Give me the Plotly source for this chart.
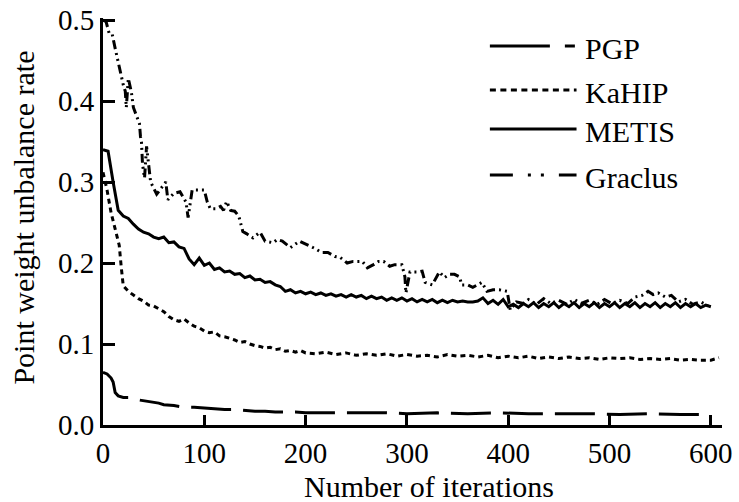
import plotly.graph_objects as go

# ---------------- data ----------------
x_ticks = [0, 100, 200, 300, 400, 500, 600]
y_ticks = [0.0, 0.1, 0.2, 0.3, 0.4, 0.5]
y_tick_text = ["0.0", "0.1", "0.2", "0.3", "0.4", "0.5"]

series_names = ["PGP", "KaHIP", "METIS", "Graclus"]

pgp_x = [0, 4, 8, 10, 12, 15, 20, 25, 30, 35, 40, 50, 55, 60, 70, 80, 90, 100, 110, 120,
         130, 140, 150, 160, 170, 180, 190, 200, 220, 240, 260, 280, 300, 330, 360, 390,
         420, 450, 480, 510, 540, 570, 600]
pgp_y = [0.065, 0.063, 0.058, 0.053, 0.040, 0.036, 0.034, 0.034, 0.032, 0.031, 0.030, 0.028,
         0.027, 0.025, 0.024, 0.022, 0.022, 0.021, 0.020, 0.019, 0.019, 0.018, 0.017, 0.017,
         0.016, 0.016, 0.016, 0.015, 0.015, 0.015, 0.015, 0.015, 0.014, 0.015, 0.014, 0.015,
         0.014, 0.014, 0.014, 0.013, 0.014, 0.013, 0.013]

kahip_x = [0, 4, 8, 12, 16, 18, 20, 25, 30, 35, 40, 45, 50, 55, 60, 65, 70, 75, 80, 85, 90,
           95, 100, 105, 110, 115, 120, 125, 130, 135, 140, 145, 150, 155, 160, 165, 170, 175,
           180, 185, 190, 195, 200, 210, 220, 230, 240, 250, 260, 270, 280, 290, 300, 310,
           320, 330, 340, 350, 360, 370, 380, 390, 400, 410, 420, 430, 440, 450, 460, 470,
           480, 490, 500, 510, 520, 530, 540, 550, 560, 570, 580, 590, 600, 608]
kahip_y = [0.312, 0.290, 0.262, 0.240, 0.222, 0.195, 0.172, 0.165, 0.160, 0.156, 0.153, 0.148,
           0.147, 0.143, 0.140, 0.134, 0.130, 0.128, 0.131, 0.126, 0.122, 0.120, 0.116, 0.114,
           0.115, 0.110, 0.109, 0.107, 0.105, 0.102, 0.103, 0.100, 0.098, 0.097, 0.095, 0.096,
           0.093, 0.094, 0.091, 0.092, 0.090, 0.092, 0.089, 0.088, 0.090, 0.087, 0.089, 0.086,
           0.088, 0.086, 0.088, 0.085, 0.087, 0.085, 0.086, 0.084, 0.087, 0.085, 0.086, 0.084,
           0.086, 0.083, 0.085, 0.083, 0.085, 0.082, 0.084, 0.082, 0.084, 0.082, 0.083, 0.081,
           0.083, 0.082, 0.083, 0.081, 0.082, 0.081, 0.082, 0.080, 0.081, 0.080, 0.080, 0.083]

metis_x = list(range(0, 601, 5))
metis_y = [0.340, 0.338, 0.300, 0.265, 0.258, 0.255, 0.248, 0.242, 0.238, 0.236, 0.232, 0.230,
           0.232, 0.225, 0.226, 0.220, 0.218, 0.205, 0.198, 0.206, 0.197, 0.200, 0.192, 0.194,
           0.189, 0.190, 0.186, 0.187, 0.182, 0.184, 0.179, 0.180, 0.176, 0.177, 0.173, 0.171,
           0.165, 0.167, 0.163, 0.165, 0.162, 0.164, 0.161, 0.163, 0.160, 0.162, 0.159, 0.161,
           0.158, 0.161, 0.158, 0.160, 0.156, 0.159, 0.156, 0.158, 0.154, 0.157, 0.154, 0.157,
           0.153, 0.156, 0.152, 0.155, 0.152, 0.155, 0.151, 0.154, 0.151, 0.154, 0.152, 0.153,
           0.152, 0.152, 0.153, 0.157, 0.150, 0.154, 0.149, 0.155, 0.146, 0.149, 0.145, 0.150,
           0.146, 0.151, 0.145, 0.150, 0.146, 0.151, 0.145, 0.150, 0.146, 0.151, 0.145, 0.150,
           0.146, 0.151, 0.145, 0.150, 0.146, 0.151, 0.145, 0.150, 0.146, 0.151, 0.145, 0.150,
           0.146, 0.151, 0.145, 0.150, 0.146, 0.151, 0.145, 0.150, 0.146, 0.150, 0.145, 0.148,
           0.146]

graclus_x = [0, 3, 6, 9, 12, 17, 20, 22, 23, 25, 28, 30, 34, 36, 37, 38, 39, 41, 43, 45, 47,
             53, 62, 64, 70, 76, 82, 84, 88, 93, 100, 103, 106, 111, 116, 119, 122, 126, 130,
             134, 138, 142, 148, 155, 160, 168, 172, 177, 185, 194, 201, 209, 216, 222, 229,
             234, 241, 247, 256, 261, 267, 272, 277, 283, 288, 295, 298, 299, 303, 310, 315,
             318, 325, 332, 337, 342, 347, 352, 354, 360, 365, 374, 379, 385, 391, 399, 402,
             408, 415, 420, 428, 435, 442, 450, 458, 465, 472, 480, 488, 495, 502, 510, 518,
             525, 532, 538, 543, 548, 555, 561, 568, 575, 582, 590, 597]
graclus_y = [0.500, 0.498, 0.484, 0.483, 0.465, 0.436, 0.420, 0.412, 0.392, 0.428, 0.411,
             0.392, 0.378, 0.372, 0.356, 0.349, 0.322, 0.305, 0.344, 0.318, 0.300, 0.285,
             0.300, 0.278, 0.286, 0.288, 0.275, 0.256, 0.290, 0.290, 0.290, 0.275, 0.267,
             0.267, 0.270, 0.265, 0.276, 0.265, 0.264, 0.258, 0.239, 0.236, 0.231, 0.238,
             0.227, 0.225, 0.229, 0.227, 0.219, 0.227, 0.223, 0.218, 0.213, 0.213, 0.208,
             0.207, 0.200, 0.202, 0.202, 0.194, 0.198, 0.202, 0.202, 0.196, 0.198, 0.198,
             0.183, 0.163, 0.189, 0.189, 0.190, 0.176, 0.173, 0.189, 0.182, 0.186, 0.186,
             0.183, 0.173, 0.173, 0.170, 0.176, 0.165, 0.167, 0.167, 0.165, 0.142, 0.152,
             0.150, 0.155, 0.149, 0.156, 0.150, 0.154, 0.149, 0.155, 0.150, 0.154, 0.149,
             0.155, 0.150, 0.154, 0.150, 0.158, 0.160, 0.165, 0.161, 0.163, 0.158, 0.160,
             0.152, 0.155, 0.149, 0.152, 0.147]

# ---------------- styles ----------------
SERIF = "Liberation Serif"
INK = "black"
LW = 3
plot_dash = {
    "PGP": "40px,12px",
    "KaHIP": "5px,4px",
    "METIS": "solid",
    "Graclus": "9px,4px,2px,4px,2px,4px",
}
legend_dash = {
    "PGP": "60px,15px,10px,200px",
    "KaHIP": "6px,4.5px",
    "METIS": "solid",
    "Graclus": "23px,15px,3px,10px,3px,15px",
}

data = {
    "PGP": (pgp_x, pgp_y),
    "KaHIP": (kahip_x, kahip_y),
    "METIS": (metis_x, metis_y),
    "Graclus": (graclus_x, graclus_y),
}

W, H = 739, 502
ML, MR, MT, MB = 103, 17, 18, 77

fig = go.Figure()
for name in series_names:
    xs, ys = data[name]
    fig.add_trace(go.Scatter(
        x=xs, y=ys, mode="lines", name=name, showlegend=False,
        line=dict(color=INK, width=LW, dash=plot_dash[name]),
    ))

legend_y = [0.931, 0.823, 0.727, 0.614]
shapes = []
annotations = []
for name, ly in zip(series_names, legend_y):
    shapes.append(dict(type="line", xref="paper", yref="paper",
                       x0=0.625, x1=0.765, y0=ly, y1=ly,
                       line=dict(color=INK, width=LW, dash=legend_dash[name])))
    annotations.append(dict(xref="paper", yref="paper", x=0.775, y=ly - 0.005,
                            xanchor="left", yanchor="middle", showarrow=False,
                            text=name, font=dict(family=SERIF, size=30, color=INK)))

annotations.append(dict(xref="paper", yref="paper", x=0.527, y=-0.150,
                        xanchor="center", yanchor="middle", showarrow=False,
                        text="Number of iterations",
                        font=dict(family=SERIF, size=30, color=INK)))
annotations.append(dict(xref="paper", yref="paper", x=-0.128, y=0.509,
                        xanchor="center", yanchor="middle", showarrow=False,
                        textangle=-90, text="Point weight unbalance rate",
                        font=dict(family=SERIF, size=30, color=INK)))

fig.update_layout(
    width=W, height=H,
    margin=dict(l=ML, r=MR, t=MT, b=MB, autoexpand=False),
    paper_bgcolor="white", plot_bgcolor="white",
    showlegend=False,
    font=dict(family=SERIF, size=29, color=INK),
    shapes=shapes, annotations=annotations,
)
fig.update_xaxes(
    range=[0, 611], tickvals=x_ticks, ticks="inside", ticklen=10, tickwidth=3,
    tickcolor=INK, showline=True, linewidth=3, linecolor=INK, showgrid=False,
    zeroline=False, tickfont=dict(family=SERIF, size=29, color=INK),
    ticklabeloverflow="allow",
)
fig.update_yaxes(
    range=[0, 0.5025], tickvals=y_ticks, ticktext=y_tick_text, ticks="inside",
    ticklen=12, tickwidth=3, tickcolor=INK, showline=True, linewidth=3,
    linecolor=INK, showgrid=False, zeroline=False,
    tickfont=dict(family=SERIF, size=29, color=INK),
    ticklabeloverflow="allow",
)

fig.write_html(
    "out.html",
    config={"displayModeBar": False},
    post_script="document.body.style.margin='0';document.body.style.overflow='hidden';",
)
